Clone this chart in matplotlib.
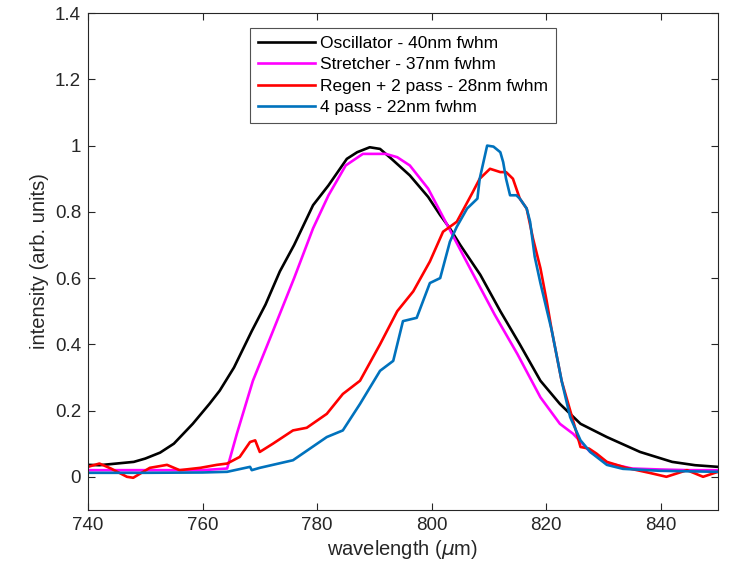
import numpy as np
import matplotlib.pyplot as plt

plt.rcParams['font.family'] = ['Liberation Sans', 'DejaVu Sans']

# Oscillator spectrum
osc_wl = [740, 742, 745, 748, 750, 752.6, 755, 758.3, 761.2, 763, 765.5, 768.6, 771,
          773.5, 776, 779.3, 782, 785.2, 787, 789.2, 791, 793, 796.2, 799.4, 801.5,
          803.2, 805, 808.5, 812, 815.4, 819, 822.4, 826, 830.6, 836.4, 842, 846, 850]
osc_int = [0.036, 0.035, 0.04, 0.045, 0.055, 0.073, 0.10, 0.16, 0.22, 0.26, 0.33, 0.44,
           0.52, 0.62, 0.70, 0.82, 0.88, 0.96, 0.98, 0.995, 0.99, 0.96, 0.91, 0.845,
           0.79, 0.75, 0.70, 0.61, 0.50, 0.40, 0.29, 0.22, 0.16, 0.12, 0.075, 0.045,
           0.035, 0.03]

# Stretcher spectrum
str_wl = [740, 745, 750, 755, 760, 764.3, 766, 768.8, 772.3, 776, 779.3, 782, 785,
          788, 790, 792, 794, 796.2, 799.4, 803.2, 807, 811, 815, 819, 822.4, 824.7,
          827.7, 831, 835, 840, 845, 850]
str_int = [0.02, 0.02, 0.02, 0.02, 0.02, 0.025, 0.13, 0.29, 0.44, 0.60, 0.75, 0.85,
           0.94, 0.975, 0.975, 0.975, 0.965, 0.94, 0.87, 0.745, 0.62, 0.49, 0.37,
           0.24, 0.16, 0.13, 0.075, 0.04, 0.025, 0.022, 0.02, 0.02]

# Regen + 2 pass
reg_wl = [740, 742, 744, 746.8, 747.9, 750.8, 753.8, 756, 759.6, 762.5, 764.3, 766.5,
          768.3, 769.2, 770, 772.3, 775.8, 778.2, 781.7, 784.5, 787.5, 791, 794, 796.8,
          799.7, 802, 804.4, 807.2, 808.4, 810.2, 812, 813, 814.2, 815.4, 816.6, 817.7,
          819, 820.1, 821, 822.7, 824.7, 826, 827.5, 828.8, 830.6, 834, 838, 841,
          844.6, 847.4, 850]
reg_int = [0.03, 0.04, 0.025, 0.0, -0.003, 0.027, 0.036, 0.02, 0.027, 0.036, 0.04,
           0.06, 0.105, 0.11, 0.075, 0.10, 0.14, 0.148, 0.19, 0.25, 0.29, 0.40, 0.50,
           0.56, 0.65, 0.74, 0.77, 0.86, 0.90, 0.93, 0.92, 0.92, 0.90, 0.84, 0.81,
           0.72, 0.63, 0.53, 0.44, 0.29, 0.17, 0.09, 0.085, 0.07, 0.045, 0.027, 0.012,
           0.0, 0.02, 0.0, 0.015]

# 4 pass
fp_wl = [740, 750, 760, 764.3, 768.3, 768.6, 770, 775.8, 781.7, 784.5, 787.5, 791,
         793.3, 795, 797.4, 799.7, 801.5, 803.2, 804.4, 806.2, 808, 808.4, 809.7,
         810.8, 812, 812.5, 813, 813.7, 814.8, 815.4, 816.6, 817.2, 818, 819, 820.1,
         821, 822.7, 824.2, 826, 827.7, 830.6, 833.4, 840, 850]
fp_int = [0.012, 0.012, 0.013, 0.015, 0.03, 0.02, 0.027, 0.05, 0.12, 0.14, 0.22, 0.32,
          0.35, 0.47, 0.48, 0.585, 0.60, 0.71, 0.755, 0.81, 0.84, 0.90, 1.0, 0.997,
          0.98, 0.95, 0.90, 0.85, 0.85, 0.84, 0.81, 0.77, 0.665, 0.585, 0.505, 0.44,
          0.29, 0.18, 0.11, 0.075, 0.036, 0.024, 0.018, 0.015]

labels = ['Oscillator - 40nm fwhm', 'Stretcher - 37nm fwhm',
          'Regen + 2 pass - 28nm fwhm', '4 pass - 22nm fwhm']
colors = ['black', '#FF00FF', '#FF0000', '#0072BD']

fig = plt.figure(figsize=(7.3, 5.71), dpi=100)
ax = fig.add_axes([0.1205, 0.107, 0.863, 0.870])

series = [(osc_wl, osc_int), (str_wl, str_int), (reg_wl, reg_int), (fp_wl, fp_int)]
for (wl, inten), lab, c in zip(series, labels, colors):
    ax.plot(wl, inten, color=c, lw=1.9, label=lab)

ax.set_xlim(740, 850)
ax.set_ylim(-0.1, 1.4)
ax.set_xticks([740, 760, 780, 800, 820, 840])
ax.set_yticks([0, 0.2, 0.4, 0.6, 0.8, 1.0, 1.2, 1.4])
ax.set_yticklabels(['0', '0.2', '0.4', '0.6', '0.8', '1', '1.2', '1.4'])

gray = '#262626'
for s in ax.spines.values():
    s.set_color(gray)
    s.set_linewidth(0.8)
ax.tick_params(direction='in', top=True, right=True, length=5, width=0.8,
               colors=gray, labelsize=13.5, pad=5)
ax.set_xlabel('wavelength ($\\mu$m)', fontsize=14.5, color=gray, labelpad=3)
ax.set_ylabel('intensity (arb. units)', fontsize=14.5, color=gray, labelpad=4)

leg = ax.legend(loc='upper center', bbox_to_anchor=(0.5, 0.97), fontsize=12.5,
                frameon=True, fancybox=False, handlelength=3.3, borderpad=0.45,
                labelspacing=0.36, handletextpad=0.3, borderaxespad=0)
leg.get_frame().set_edgecolor(gray)
leg.get_frame().set_linewidth(0.8)
for t in leg.get_texts():
    t.set_color('black')

fig.savefig('out.png', dpi=100)
